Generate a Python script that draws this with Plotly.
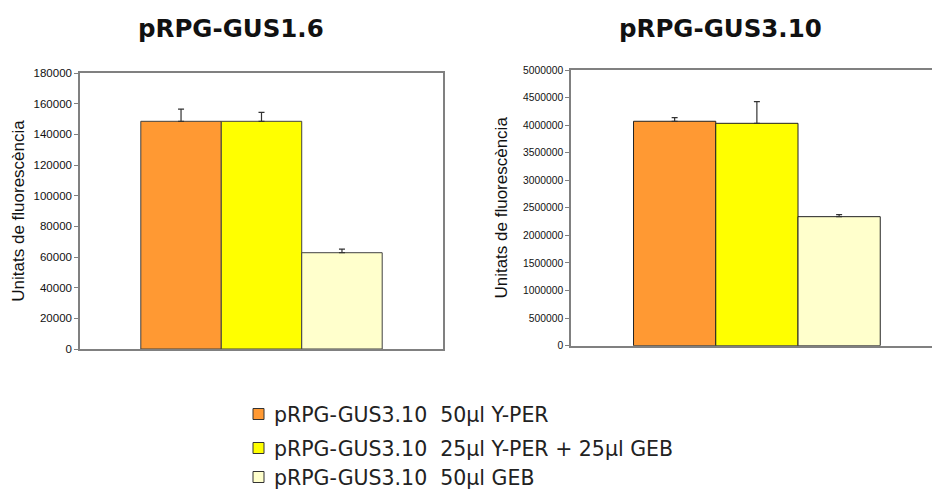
import plotly.graph_objects as go

series_names = [
    "pRPG-GUS3.10  50μl Y-PER",
    "pRPG-GUS3.10  25μl Y-PER + 25μl GEB",
    "pRPG-GUS3.10  50μl GEB",
]
colors = ["#FF9933", "#FFFF00", "#FFFFCC"]

chart_titles = ["pRPG-GUS1.6", "pRPG-GUS3.10"]
values_gus16 = [148500, 148500, 62800]
errors_gus16 = [8000, 5800, 2400]
values_gus310 = [4070000, 4033000, 2340000]
errors_gus310 = [65000, 392000, 36000]

y_title = "Unitats de fluorescència"

W, H = 932, 491


def px(x):
    return x / W


def py(y):
    return 1 - y / H


fig = go.Figure()

for i, name in enumerate(series_names):
    fig.add_trace(go.Bar(
        x=[0], y=[values_gus16[i]], name=name, legendgroup=name,
        marker=dict(color=colors[i], line=dict(color="#404040", width=1)),
        error_y=dict(type="data", array=[errors_gus16[i]], arrayminus=[0], symmetric=False,
                     color="#333333", thickness=1.2, width=3),
        xaxis="x", yaxis="y", showlegend=False,
    ))
for i, name in enumerate(series_names):
    fig.add_trace(go.Bar(
        x=[0], y=[values_gus310[i]], name=name, legendgroup=name,
        marker=dict(color=colors[i], line=dict(color="#222222", width=1)),
        error_y=dict(type="data", array=[errors_gus310[i]], arrayminus=[0], symmetric=False,
                     color="#333333", thickness=1.2, width=3),
        xaxis="x2", yaxis="y2", showlegend=False,
    ))

axis_line = "#808080"
tickfont_l = dict(family="Liberation Sans, Arial", size=11.5, color="#111111")
tickfont_r = dict(family="Liberation Sans, Arial", size=10.3, color="#111111")
titlefont = dict(family="Liberation Sans, Arial", size=17, color="#111111")

fig.update_layout(
    width=W, height=H,
    margin=dict(l=0, r=0, t=0, b=0, autoexpand=False),
    paper_bgcolor="white", plot_bgcolor="white",
    barmode="group", bargap=0.335, bargroupgap=0,
    showlegend=False,
    xaxis=dict(domain=[px(80), px(443)], range=[-0.5, 0.5], showticklabels=False,
               ticks="", showgrid=False, zeroline=False, showline=True,
               linecolor=axis_line, linewidth=1.5, mirror=True, automargin=False),
    yaxis=dict(domain=[py(349), py(73)], range=[0, 180000], dtick=20000,
               tickformat="d", ticks="outside", ticklen=4, tickcolor=axis_line,
               showgrid=False, zeroline=False, showline=True, linecolor=axis_line,
               linewidth=1.5, mirror=True, tickfont=tickfont_l, automargin=False,
               title=dict(text=y_title, font=titlefont, standoff=5)),
    xaxis2=dict(domain=[px(571), 1.0], range=[-0.501, 0.472], showticklabels=False,
                ticks="", showgrid=False, zeroline=False, showline=True,
                linecolor=axis_line, linewidth=1.5, mirror=True, anchor="y2",
                automargin=False),
    yaxis2=dict(domain=[py(345.7), py(70)], range=[0, 5000000], dtick=500000,
                tickformat="d", ticks="outside", ticklen=4, tickcolor=axis_line,
                showgrid=False, zeroline=False, showline=True, linecolor=axis_line,
                linewidth=1.5, mirror=False, tickfont=tickfont_r, anchor="x2",
                automargin=False,
                title=dict(text=y_title, font=titlefont, standoff=11)),
)

title_x = [231, 720]
for t, cx in zip(chart_titles, title_x):
    fig.add_annotation(text="<b>%s</b>" % t, x=px(cx), y=py(28), xref="paper", yref="paper",
                       showarrow=False, xanchor="center", yanchor="middle",
                       font=dict(family="DejaVu Sans", size=24.5, color="#111111"))

# Legend drawn as a key below the charts
legend_rows_y = [414, 448, 477]
for name, col, ry in zip(series_names, colors, legend_rows_y):
    fig.add_shape(type="rect", xref="paper", yref="paper",
                  x0=px(253), x1=px(264), y0=py(ry - 5.5), y1=py(ry + 5.5),
                  fillcolor=col, line=dict(color="#333333", width=1))
    fig.add_annotation(text=name, x=px(272), y=py(ry + 1), xref="paper", yref="paper",
                       showarrow=False, xanchor="left", yanchor="middle",
                       font=dict(family="DejaVu Sans", size=20.5, color="#222222"))

fig.write_html(
    "out.html",
    config={"displayModeBar": False},
    post_script="document.body.style.margin='0';document.body.style.overflow='hidden';",
)
